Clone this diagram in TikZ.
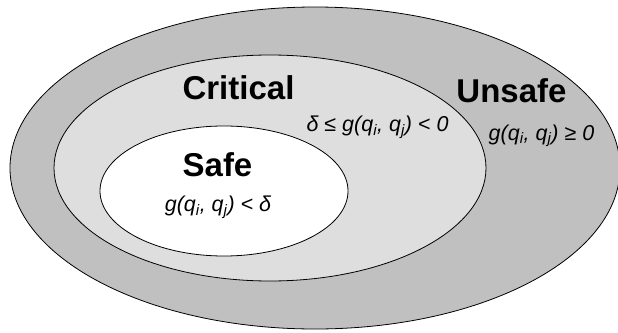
\documentclass[tikz,border=0pt]{standalone}
\usepackage{fontspec}
\setmainfont{Liberation Sans}
\definecolor{unsafegray}{HTML}{C0C0C0}
\definecolor{criticalgray}{HTML}{DEDEDE}
\begin{document}
\begin{tikzpicture}[x=1pt,y=-1pt,
  region/.style={draw=black,line width=0.8pt},
  title/.style={font=\bfseries\fontsize{33}{36}\selectfont,inner sep=0pt,anchor=base},
  cond/.style={font=\itshape\fontsize{21.5}{24}\selectfont,inner sep=0pt,anchor=base}]
\useasboundingbox (0,0) rectangle (618,332);
\fill[white] (0,0) rectangle (618,332);
\begin{scope}
  \clip (0,0) rectangle (618,332);
  % nested regions: unsafe, critical, safe
  \filldraw[region,fill=unsafegray]   (315,168) ellipse [x radius=305,y radius=161];
  \filldraw[region,fill=criticalgray] (270,168) ellipse [x radius=216,y radius=113];
  \filldraw[region,fill=white]        (224,191) ellipse [x radius=124,y radius=65];
\end{scope}
% region names
\node[title] (critical) at (238.5,99) {Critical};
\node[title] (unsafe)   at (511.5,102) {Unsafe};
\node[title] (safe)     at (217.5,176) {Safe};
% region conditions
\node[cond] (critcond)   at (377.5,131.7) {δ ≤ g(q\textsubscript{i}, q\textsubscript{j}) < 0};
\node[cond] (unsafecond) at (541.5,140) {g(q\textsubscript{i}, q\textsubscript{j}) ≥ 0};
\node[cond] (safecond)   at (218,211.7) {g(q\textsubscript{i}, q\textsubscript{j}) < δ};
\end{tikzpicture}
\end{document}
